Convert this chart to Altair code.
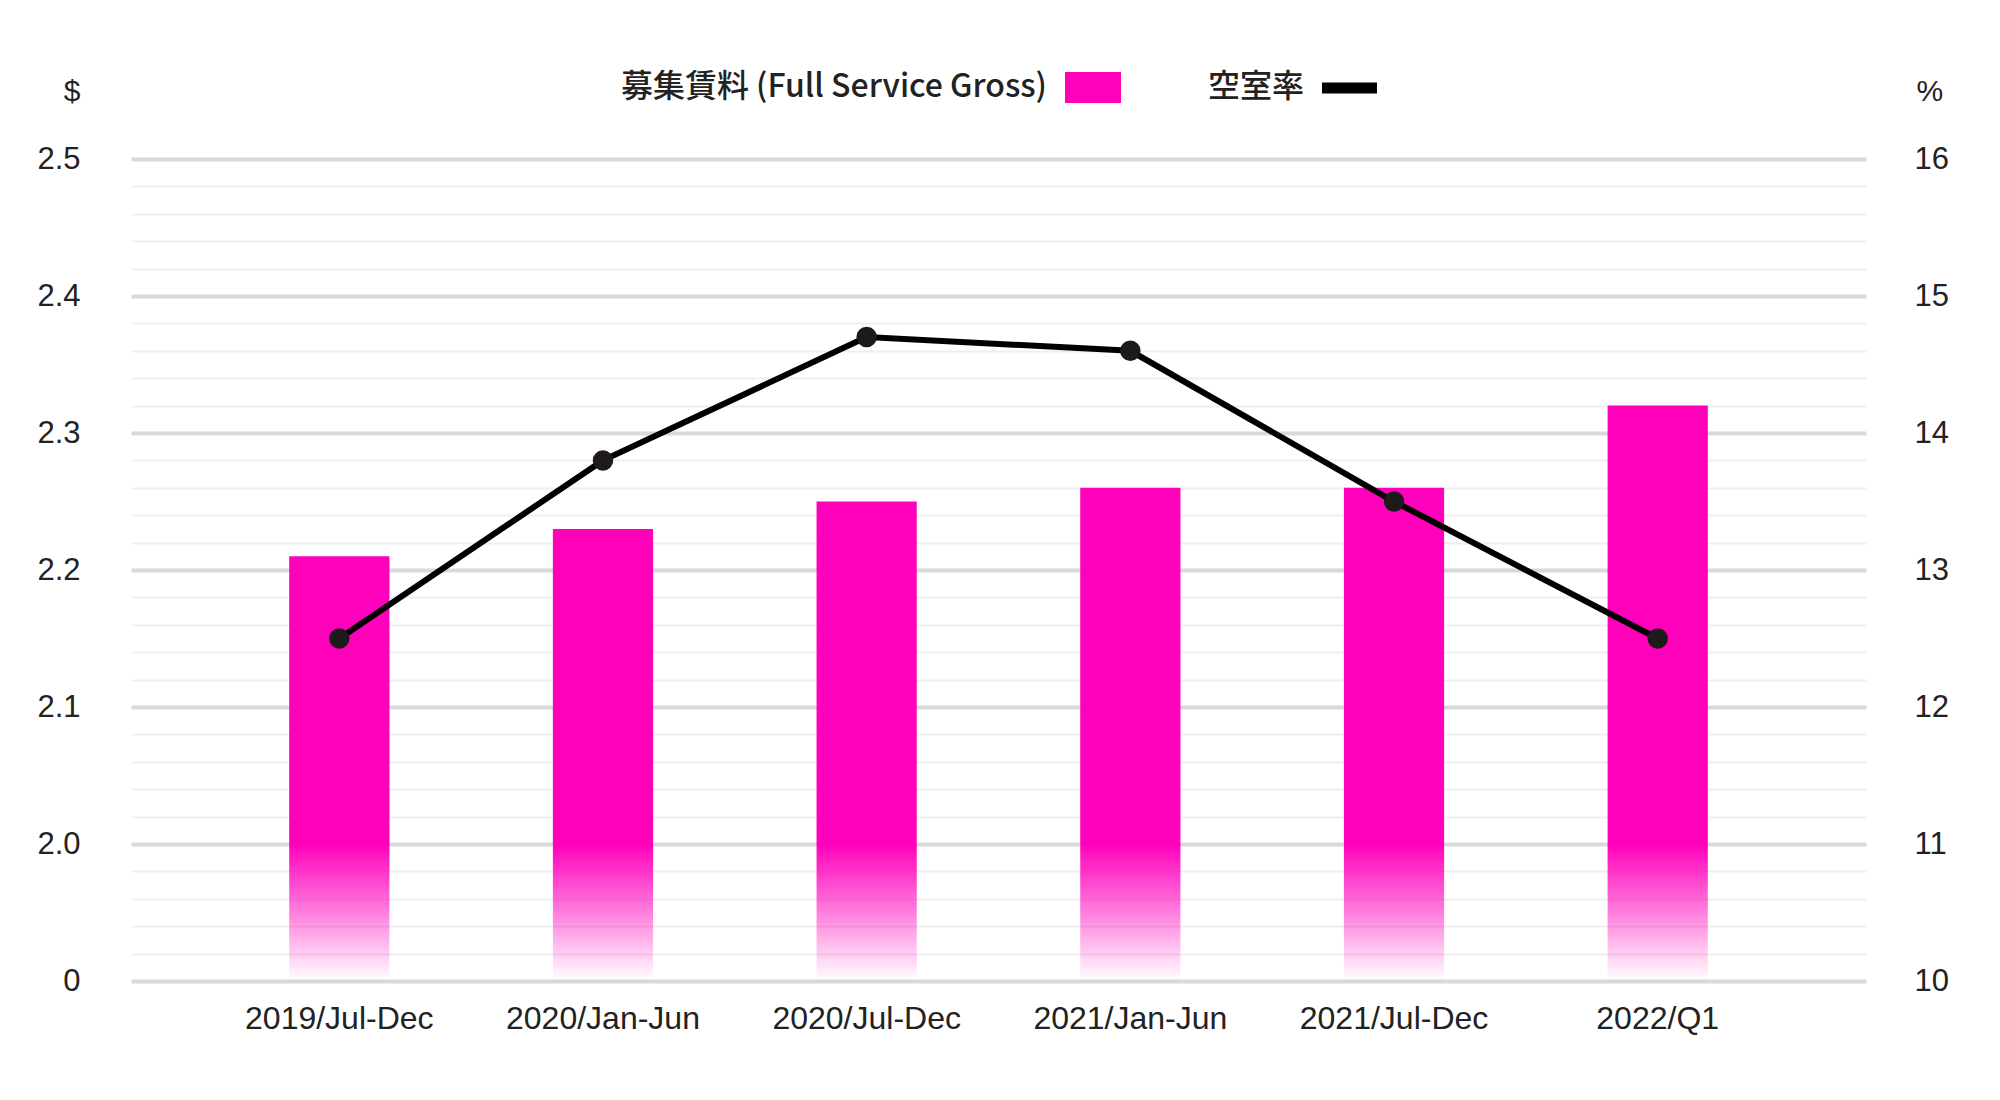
import altair as alt
import pandas as pd

# ---- data ----
categories = ["2019/Jul-Dec", "2020/Jan-Jun", "2020/Jul-Dec", "2021/Jan-Jun", "2021/Jul-Dec", "2022/Q1"]
rent = [2.21, 2.23, 2.25, 2.26, 2.26, 2.32]          # 募集賃料 ($)
vacancy = [12.5, 13.8, 14.7, 14.6, 13.5, 12.5]       # 空室率 (%)

left_tick_values = [1.9, 2.0, 2.1, 2.2, 2.3, 2.4, 2.5]
left_tick_labels = ["0", "2.0", "2.1", "2.2", "2.3", "2.4", "2.5"]
right_tick_values = [10, 11, 12, 13, 14, 15, 16]
minor_per_major = 5

legend_rent = "募集賃料 (Full Service Gross)"
legend_vac = "空室率"

PINK = "#ff00bb"
FONT = "Liberation Sans"
CJK = "Noto Sans CJK JP"

df = pd.DataFrame({"period": categories, "rent": rent, "vacancy": vacancy})

# all tick positions on the left scale (major + minor) for the gridlines
lo_v, hi_v = left_tick_values[0], left_tick_values[-1]
n_minor = (len(left_tick_values) - 1) * minor_per_major
all_left = [round(lo_v + (hi_v - lo_v) * i / n_minor, 4) for i in range(n_minor + 1)]

major_test = "abs(datum.value*10 - round(datum.value*10)) < 0.001"
label_expr = "".join(f"abs(datum.value-{v})<0.001 ? '{l}' : " for v, l in zip(left_tick_values, left_tick_labels)) + "''"

left_axis = alt.Axis(
    values=all_left, labelExpr=label_expr, title="$",
    grid=True,
    gridColor={"condition": {"test": major_test, "value": "#d9d9d9"}, "value": "#efefef"},
    gridWidth={"condition": {"test": major_test, "value": 4}, "value": 2},
    ticks=False, tickSize=0, domain=False,
    labelFont=FONT, labelFontSize=31, labelColor="#222222", labelPadding=51,
    titleFont=FONT, titleFontSize=30, titleFontWeight="normal", titleColor="#222222",
    titleAngle=0, titleAlign="right", titleBaseline="middle", titleX=-51, titleY=-68,
)
right_axis = alt.Axis(
    values=right_tick_values, title="%", grid=False,
    ticks=False, tickSize=0, domain=False,
    labelFont=FONT, labelFontSize=31, labelColor="#222222", labelPadding=48,
    titleFont=FONT, titleFontSize=30, titleFontWeight="normal", titleColor="#222222",
    titleAngle=0, titleAlign="left", titleBaseline="middle", titleX=50, titleY=-68,
)

yL = alt.Scale(domain=[lo_v, hi_v], nice=False, zero=False)
yR = alt.Scale(domain=[right_tick_values[0], right_tick_values[-1]], nice=False, zero=False)

X = alt.X("period:N", sort=categories, title=None,
          scale=alt.Scale(paddingInner=0.62, paddingOuter=0.60),
          axis=alt.Axis(labelAngle=0, ticks=False, domain=False, labelFont=FONT, labelFontSize=32,
                        labelColor="#222222", labelPadding=22, labelLimit=0))

gradient = alt.Gradient(
    gradient="linear",
    stops=[alt.GradientStop(color=PINK, offset=0),
           alt.GradientStop(color="rgba(255,0,187,0)", offset=1)],
    x1=0, x2=0, y1=0, y2=1,
)

base = alt.Chart(df).transform_calculate(lo=str(left_tick_values[0]), hi=str(left_tick_values[1]))

grad_bars = base.mark_bar(color=gradient).encode(
    x=X, y=alt.Y("lo:Q", scale=yL, axis=left_axis), y2=alt.Y2("hi:Q"))
solid_bars = base.mark_bar(color=PINK).encode(
    x=X, y=alt.Y("rent:Q", scale=yL, axis=left_axis), y2=alt.Y2("hi:Q"))

one = pd.DataFrame({"a": [0]})
leg_t1 = alt.Chart(one).mark_text(text=legend_rent, font=CJK, fontSize=32, fontWeight=500, color="#222222",
                                  align="right", baseline="middle").encode(
    x=alt.value(916), y=alt.value(-72))
leg_r1 = alt.Chart(one).mark_rect(color=PINK).encode(
    x=alt.value(934), x2=alt.value(990), y=alt.value(-87), y2=alt.value(-56))
leg_t2 = alt.Chart(one).mark_text(text=legend_vac, font=CJK, fontSize=32, fontWeight=500, color="#222222",
                                  align="right", baseline="middle").encode(
    x=alt.value(1173), y=alt.value(-72))
leg_r2 = alt.Chart(one).mark_rule(color="black", strokeWidth=11).encode(
    x=alt.value(1191), x2=alt.value(1246), y=alt.value(-71))

inner = alt.layer(grad_bars, solid_bars, leg_t1, leg_r1, leg_t2, leg_r2)

line = alt.Chart(df).mark_line(
    color="black", strokeWidth=6,
    point=alt.OverlayMarkDef(filled=True, size=420, color="#1e1a1a", opacity=1),
).encode(x=X, y=alt.Y("vacancy:Q", scale=yR, axis=right_axis))

chart = alt.layer(inner, line).resolve_scale(y="independent").properties(
    width=1735, height=822,
    padding={"left": 28, "top": 63, "right": 5, "bottom": 5},
    background="white",
).configure_view(stroke=None)

chart.save("out.html", embed_options={"renderer": "svg", "actions": False})
